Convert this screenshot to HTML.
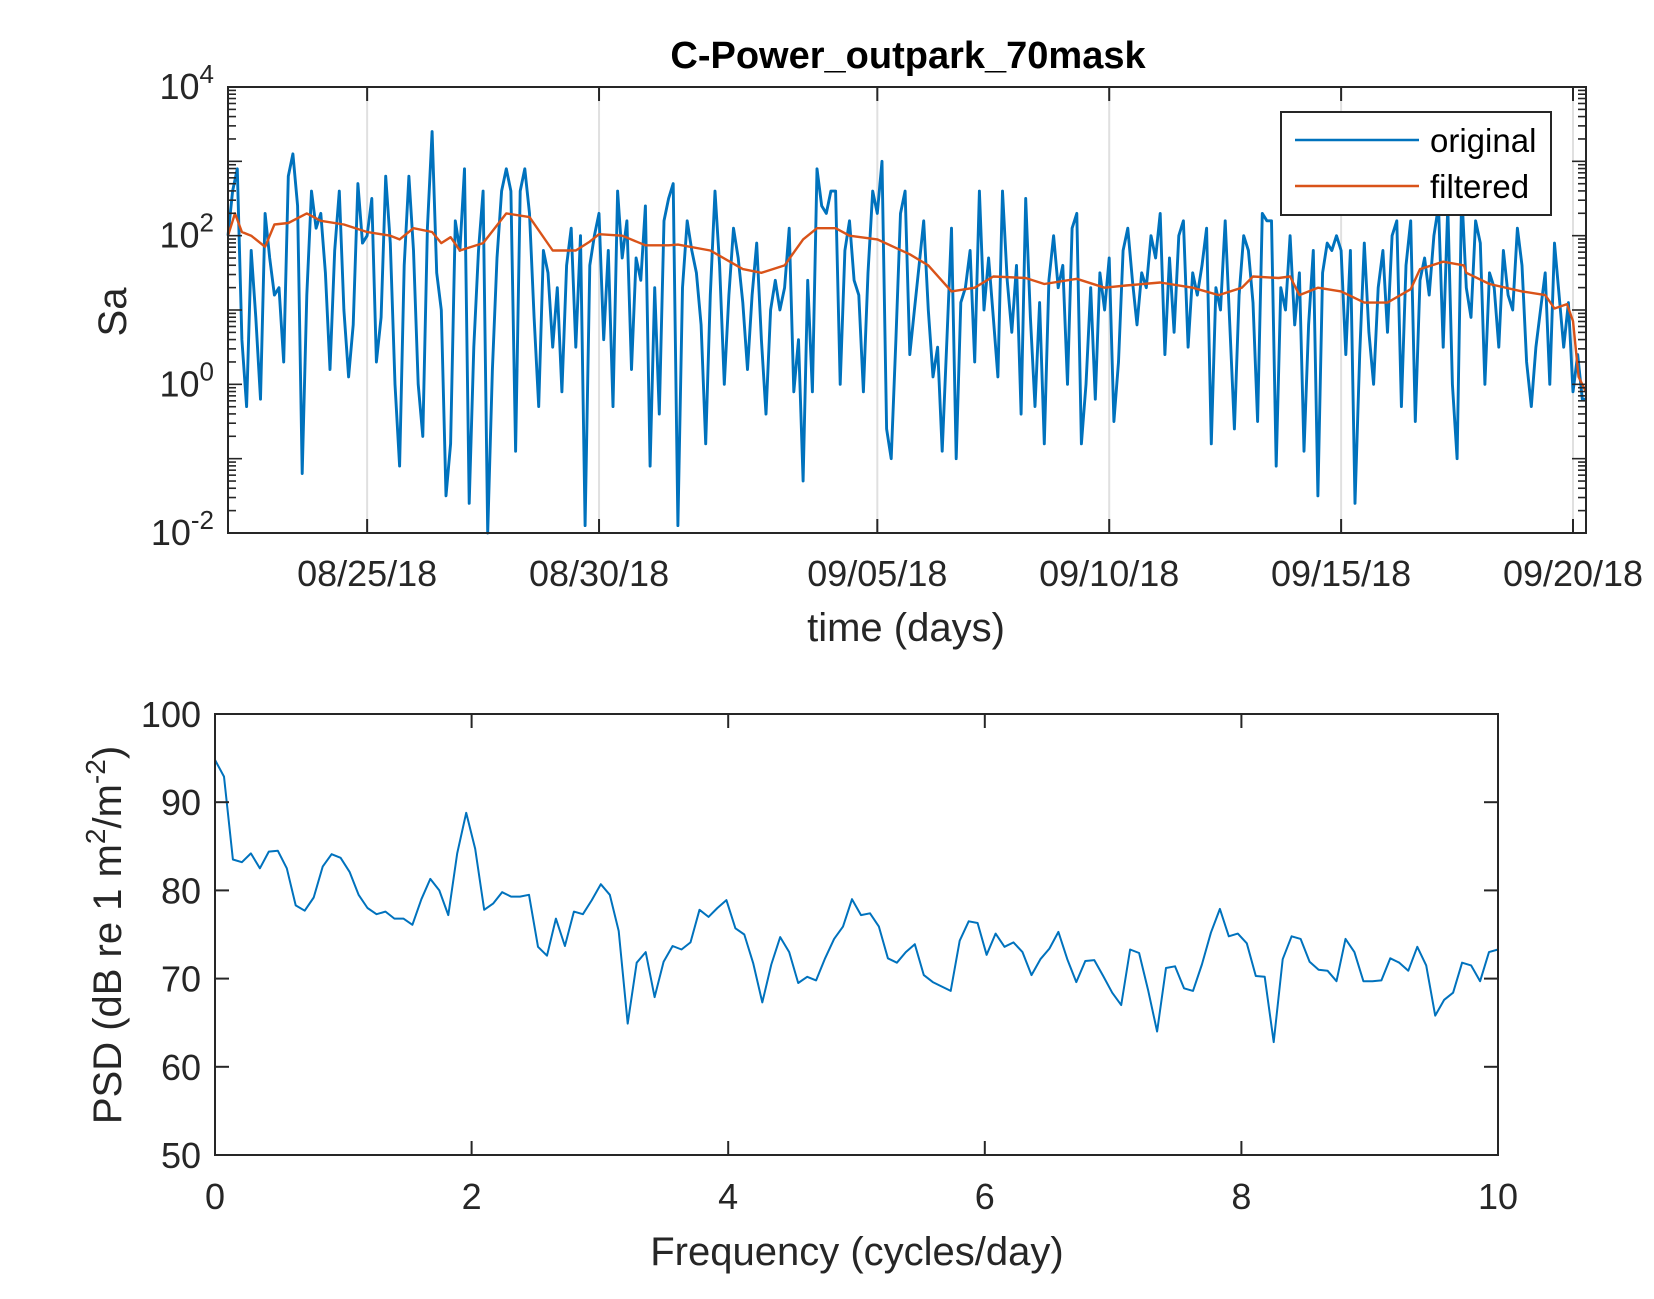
<!DOCTYPE html>
<html><head><meta charset="utf-8"><style>
html,body{margin:0;padding:0;background:#fff;}
svg{display:block;font-family:"Liberation Sans",Arial,sans-serif;}
</style></head><body>
<svg id="fig" width="1654" height="1299" viewBox="0 0 1654 1299" xmlns="http://www.w3.org/2000/svg">
<rect width="1654" height="1299" fill="#fff"/>
<g id="topPanel"></g>
<g id="botPanel"></g>
</svg>
<script>
// ---------- data ----------
const origLog1 = [2.0,2.6,2.9,0.6,-0.3,1.8,0.9,-0.2,2.3,1.7,1.2,1.3,0.3,2.8,3.1,2.4,-1.2,1.2,2.6,2.1,2.3,1.5,0.2,1.8,2.6,1.0,0.1,0.8,2.7,1.9,2.0,2.5,0.3,0.9,2.8,1.9,0.0,-1.1,1.6,2.8,1.8,0.0,-0.7,2.1,3.4,1.5,1.0,-1.5,-0.8,2.2,1.8,2.9,-1.6,0.5,1.8,2.6,-2.0,0.2,1.7,2.6,2.9,2.6,-0.9,2.6,2.9,2.3,0.9,-0.3,1.8,1.5,0.5,1.3,-0.1,1.6,2.1,0.5,2.0,-1.9,1.6,2.0,2.3,0.6,1.8,-0.3,2.6,1.7,2.2,0.2,1.7,1.4,2.4,-1.1,1.3,-0.4,2.2,2.5,2.7,-1.9,1.3];
const origLog2 = [2.2,1.8,1.5,0.8,-0.8,1.2,2.6,1.6,0.0,1.2,2.1,1.7,1.1,0.2,1.2,1.9,0.6,-0.4,1.0,1.4,1.0,1.3,2.1,-0.1,0.6,-1.3,1.4,-0.1,2.9,2.4,2.3,2.6,2.6,0.0,1.8,2.2,1.4,1.2,-0.1,1.5,2.6,2.3,3.0,-0.6,-1.0,0.6,2.3,2.6,0.4,1.0,1.6,2.2,1.0,0.1,0.5,-0.9,0.6,2.1,-1.0,1.1,1.3,1.8,0.3,2.6,1.0,1.7,0.9,0.1,2.6,1.4,0.7,1.6,-0.4,2.5,0.9,-0.3,1.1,-0.8,1.4,2.0,1.3,1.6,0.0,2.1,2.3,-0.8,0.0,1.3,-0.2,1.5,1.0,1.7,-0.5,0.3,1.8,2.1,1.4];
const origLog3 = [0.8,1.5,1.3,2.0,1.7,2.3,0.4,1.7,0.7,2.0,2.2,0.5,1.5,1.2,1.6,2.1,-0.8,1.3,1.0,2.2,0.8,-0.6,1.2,2.0,1.8,1.1,-0.5,2.3,2.2,2.2,-1.1,1.3,1.0,2.0,0.8,1.5,-0.9,0.8,1.8,-1.5,1.5,1.9,1.8,2.0,1.8,0.4,1.8,-1.6,0.4,1.9,0.7,0.0,1.3,1.8,0.7,2.0,2.2,-0.3,1.6,2.2,-0.5,1.4,1.7,1.2,2.0,2.4,0.5,2.4,0.0,-1.0,2.6,1.3,0.9,2.2,1.9,0.0,1.5,1.3,0.5,1.8,1.2,1.0,2.1,1.6,0.3,-0.3,0.5,1.0,1.5,0.0,1.9,1.2,0.5,1.1,-0.1,0.4,-0.2];
const filtDays = [0,0.15,0.3,0.5,0.8,1.0,1.3,1.7,2.0,2.5,3.0,3.5,3.7,4.0,4.4,4.6,4.8,5.0,5.5,6.0,6.5,7.0,7.5,7.8,8.0,8.5,9.0,9.5,9.7,10.4,11.1,11.5,12.0,12.4,12.7,13.1,13.4,14.0,14.35,14.7,15.1,15.6,16.1,16.5,17.2,17.6,18.3,18.9,19.36,20.1,20.8,21.36,21.86,22.1,22.65,22.9,23.1,23.5,24.0,24.5,25.0,25.5,25.7,26.2,26.65,26.7,27.2,27.9,28.4,28.6,28.87,29.0,29.12,29.28];
const filtLog = [2.0,2.3,2.05,2.0,1.85,2.15,2.17,2.3,2.2,2.15,2.05,2.0,1.95,2.1,2.05,1.9,1.98,1.8,1.9,2.3,2.25,1.8,1.8,1.92,2.02,2.0,1.87,1.87,1.88,1.8,1.55,1.5,1.6,1.95,2.1,2.1,2.0,1.95,1.85,1.75,1.6,1.25,1.3,1.45,1.43,1.35,1.42,1.3,1.33,1.37,1.3,1.2,1.3,1.45,1.43,1.45,1.2,1.3,1.25,1.1,1.1,1.28,1.55,1.65,1.6,1.5,1.35,1.25,1.2,1.02,1.08,0.85,0.1,-0.1];
const dateLabels = ["08/25/18","08/30/18","09/05/18","09/10/18","09/15/18","09/20/18"];
const dateDays = [3,8,14,19,24,29];
const yExps = [-2,0,2,4];
const psd = [94.8,92.9,83.5,83.2,84.2,82.5,84.4,84.5,82.5,78.3,77.7,79.2,82.7,84.1,83.7,82.1,79.5,78.0,77.3,77.6,76.8,76.8,76.1,79.0,81.3,80.0,77.2,84.2,88.8,84.7,77.8,78.5,79.8,79.3,79.3,79.5,73.6,72.6,76.8,73.7,77.6,77.3,78.9,80.7,79.5,75.4,64.9,71.8,73.0,67.9,71.9,73.7,73.3,74.1,77.8,77.0,78.0,78.9,75.7,75.0,71.7,67.3,71.6,74.7,73.0,69.5,70.2,69.8,72.3,74.5,75.9,79.0,77.2,77.4,75.9,72.3,71.8,73.0,73.9,70.4,69.6,69.1,68.6,74.3,76.5,76.3,72.7,75.1,73.6,74.1,73.0,70.4,72.2,73.4,75.3,72.2,69.6,72.0,72.1,70.3,68.4,67.0,73.3,72.9,68.7,64.0,71.2,71.4,68.9,68.6,71.6,75.2,77.9,74.8,75.1,74.0,70.3,70.2,62.8,72.2,74.8,74.5,71.9,71.0,70.9,69.7,74.5,73.0,69.7,69.7,69.8,72.3,71.8,70.9,73.6,71.5,65.8,67.6,68.4,71.8,71.5,69.7,73.0,73.3];
const psdYTicks = [50,60,70,80,90,100];
const psdXTicks = [0,2,4,6,8,10];

// ---------- helpers ----------
const NS="http://www.w3.org/2000/svg";
function mk(parent,tag,attrs,text){const e=document.createElementNS(NS,tag);for(const k in attrs)e.setAttribute(k,attrs[k]);if(text!==undefined)e.textContent=text;parent.appendChild(e);return e;}
const topG=document.getElementById('topPanel'), botG=document.getElementById('botPanel');

// ---------- top axes ----------
const T={l:228,r:1586,t:87,b:533,d0:0,d1:29.28,y0:-2,y1:4};
const tx=d=>T.l+(d-T.d0)/(T.d1-T.d0)*(T.r-T.l);
const ty=v=>T.b-(v-T.y0)/(T.y1-T.y0)*(T.b-T.t);
dateDays.forEach((d,i)=>{
  const g=mk(topG,'line',{x1:tx(d),x2:tx(d),y1:T.t,y2:T.b,stroke:'#e0e0e0','stroke-width':2});
  
  
});
const orig=[].concat(origLog1,origLog2,origLog3);
let pts=orig.map((v,i)=>tx(i*0.1).toFixed(1)+','+ty(v).toFixed(1));
pts.push(tx(29.28).toFixed(1)+','+ty(-0.2).toFixed(1));
const lo=mk(topG,'polyline',{points:pts.join(' '),fill:'none',stroke:'#0072BD','stroke-width':2.9,'stroke-linejoin':'round'});


const lf=mk(topG,'polyline',{points:filtDays.map((d,i)=>tx(d).toFixed(1)+','+ty(filtLog[i]).toFixed(1)).join(' '),fill:'none',stroke:'#D95319','stroke-width':2.4,'stroke-linejoin':'round'});


const tb=mk(topG,'rect',{x:T.l,y:T.t,width:T.r-T.l,height:T.b-T.t,fill:'none',stroke:'#262626','stroke-width':2});


for(let e=-2;e<4;e++){for(let m=1;m<10;m++){const v=e+Math.log10(m);const y=ty(v);const L=m===1?14:8;
  mk(topG,'line',{x1:T.l,x2:T.l+L,y1:y,y2:y,stroke:'#262626','stroke-width':1.6});
  mk(topG,'line',{x1:T.r,x2:T.r-L,y1:y,y2:y,stroke:'#262626','stroke-width':1.6});}}
yExps.forEach(e=>{
  const t=mk(topG,'text',{x:T.l-14,y:ty(e)+12,'text-anchor':'end','font-size':36,fill:'#262626'});
  
  
  mk(t,'tspan',{},'10');mk(t,'tspan',{dy:-16,'font-size':26},String(e));
});
dateDays.forEach((d,i)=>{
  mk(topG,'line',{x1:tx(d),x2:tx(d),y1:T.b,y2:T.b-14,stroke:'#262626','stroke-width':2});
  mk(topG,'line',{x1:tx(d),x2:tx(d),y1:T.t,y2:T.t+14,stroke:'#262626','stroke-width':2});
  const t=mk(topG,'text',{x:tx(d),y:586,'text-anchor':'middle','font-size':36,fill:'#262626'},dateLabels[i]);
  
  
});
const lg=mk(topG,'g',{});


mk(lg,'rect',{x:1281,y:112,width:270,height:103,fill:'#fff',stroke:'#262626','stroke-width':2});
mk(lg,'line',{x1:1295,x2:1419,y1:140,y2:140,stroke:'#0072BD','stroke-width':2.4});
mk(lg,'line',{x1:1295,x2:1419,y1:186,y2:186,stroke:'#D95319','stroke-width':2.4});
const le1=mk(lg,'text',{x:1430,y:152,'font-size':33,fill:'#000'},'original');


const le2=mk(lg,'text',{x:1430,y:198,'font-size':33,fill:'#000'},'filtered');


const tt=mk(topG,'text',{x:908,y:68,'text-anchor':'middle','font-size':38,'font-weight':'bold',fill:'#000'},'C-Power_outpark_70mask');


const xl=mk(topG,'text',{x:906,y:641,'text-anchor':'middle','font-size':40,fill:'#262626'},'time (days)');


const yl=mk(topG,'text',{x:0,y:0,'text-anchor':'middle','font-size':40,fill:'#262626',transform:'translate(126,312) rotate(-90)'},'Sa');



// ---------- bottom axes ----------
const B={l:215,r:1498,t:714,b:1155,x0:0,x1:10,y0:50,y1:100};
const bx=f=>B.l+(f-B.x0)/(B.x1-B.x0)*(B.r-B.l);
const by=v=>B.b-(v-B.y0)/(B.y1-B.y0)*(B.b-B.t);
const n=psd.length;
const lp=mk(botG,'polyline',{points:psd.map((v,i)=>bx(i*10/(n-1)).toFixed(1)+','+by(v).toFixed(1)).join(' '),fill:'none',stroke:'#0072BD','stroke-width':2,'stroke-linejoin':'round'});


const bb=mk(botG,'rect',{x:B.l,y:B.t,width:B.r-B.l,height:B.b-B.t,fill:'none',stroke:'#262626','stroke-width':2});


psdYTicks.forEach(v=>{
  mk(botG,'line',{x1:B.l,x2:B.l+14,y1:by(v),y2:by(v),stroke:'#262626','stroke-width':2});
  mk(botG,'line',{x1:B.r,x2:B.r-14,y1:by(v),y2:by(v),stroke:'#262626','stroke-width':2});
  const t=mk(botG,'text',{x:B.l-14,y:by(v)+13,'text-anchor':'end','font-size':36,fill:'#262626'},String(v));
  
  
});
psdXTicks.forEach(v=>{
  mk(botG,'line',{x1:bx(v),x2:bx(v),y1:B.b,y2:B.b-14,stroke:'#262626','stroke-width':2});
  mk(botG,'line',{x1:bx(v),x2:bx(v),y1:B.t,y2:B.t+14,stroke:'#262626','stroke-width':2});
  const t=mk(botG,'text',{x:bx(v),y:1209,'text-anchor':'middle','font-size':36,fill:'#262626'},String(v));
  
  
});
const fx=mk(botG,'text',{x:857,y:1265,'text-anchor':'middle','font-size':40,fill:'#262626'},'Frequency (cycles/day)');


const py=mk(botG,'text',{x:0,y:0,'text-anchor':'middle','font-size':40,fill:'#262626',transform:'translate(121,935) rotate(-90)'});


mk(py,'tspan',{},'PSD (dB re 1 m');mk(py,'tspan',{dy:-16,'font-size':28},'2');mk(py,'tspan',{dy:16},'/m');mk(py,'tspan',{dy:-16,'font-size':28},'-2');mk(py,'tspan',{dy:16},')');
</script>
</body></html>
